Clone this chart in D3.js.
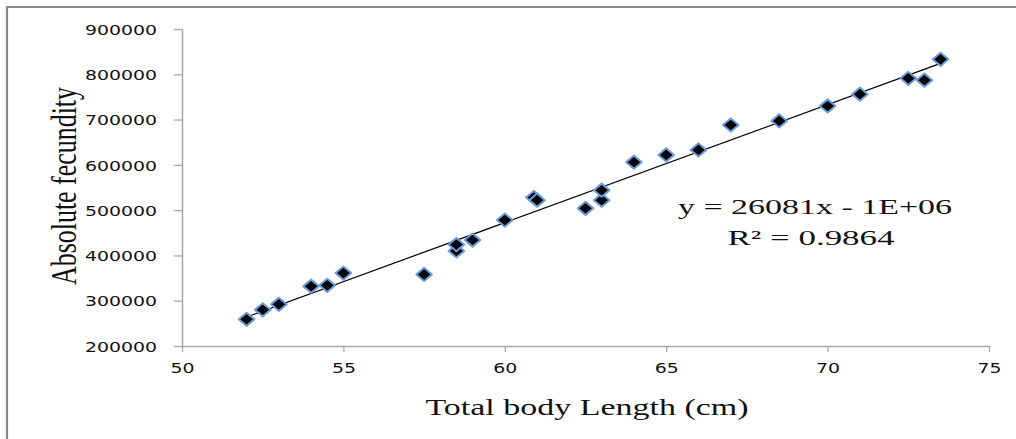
<!DOCTYPE html>
<html>
<head>
<meta charset="utf-8">
<script src="https://cdn.jsdelivr.net/npm/d3@7"></script>
<style>
  html, body { margin: 0; padding: 0; background: #fff; }
  svg { display: block; }
</style>
</head>
<body>
<svg id="chart" width="1016" height="439"></svg>
<script>
// ---- data ----
const bodyLength = [52, 52.5, 53, 54, 54.5, 55, 57.5, 58.5, 58.5, 59, 60, 60.9, 61, 62.5, 63, 63, 64, 65, 66, 67, 68.5, 70, 71, 72.5, 73, 73.5];
const fecundity  = [259000, 280000, 292000, 332000, 334000, 361000, 358000, 410000, 424000, 434000, 478000, 528000, 522000, 504000, 522000, 544000, 606000, 622000, 633000, 688000, 697000, 730000, 756000, 791000, 787000, 833000];
const xTicks = [50, 55, 60, 65, 70, 75];
const yTicks = [200000, 300000, 400000, 500000, 600000, 700000, 800000, 900000];
const xTitle = "Total body Length (cm)";
const yTitle = "Absolute fecundity";
const eqLines = ["y = 26081x - 1E+06", "R\u00B2 = 0.9864"];

const svg = d3.select("#chart");

// frame (top and left edges visible)
svg.append("path")
  .attr("d", "M7,439 L7,7 L1016,7")
  .attr("fill", "none").attr("stroke", "#8a8a8a").attr("stroke-width", 2.2);

const x = d3.scaleLinear().domain([50, 75]).range([182, 989]);
const y = d3.scaleLinear().domain([200000, 900000]).range([346, 29]);

// axes
const xAxis = svg.append("g").attr("transform", "translate(0,346)")
  .call(d3.axisBottom(x).tickValues(xTicks).tickSize(6).tickSizeOuter(0).tickFormat(d3.format("d")));
const yAxis = svg.append("g").attr("transform", "translate(182,0)")
  .call(d3.axisLeft(y).tickValues(yTicks).tickSize(8).tickSizeOuter(0).tickFormat(d3.format("d")));

[xAxis, yAxis].forEach(g => {
  g.select(".domain").attr("stroke", "#a6a6a6").attr("stroke-width", 1.5);
  g.selectAll(".tick line").attr("stroke", "#a6a6a6").attr("stroke-width", 1.3);
  g.selectAll(".tick text")
    .attr("font-family", "'DejaVu Sans', Verdana, sans-serif")
    .attr("font-size", 14.5)
    .attr("fill", "#111")
    .attr("lengthAdjust", "spacingAndGlyphs")
    .attr("textLength", function() { return this.textContent.length * 12; });
});
yAxis.selectAll(".tick text").attr("x", -25).attr("dy", "0.36em");
xAxis.selectAll(".tick text").attr("y", 17).attr("dy", "0.71em");

// trendline (least squares)
const n = bodyLength.length;
const mx = d3.mean(bodyLength), my = d3.mean(fecundity);
let sxy = 0, sxx = 0;
for (let i = 0; i < n; i++) { sxy += (bodyLength[i] - mx) * (fecundity[i] - my); sxx += (bodyLength[i] - mx) ** 2; }
const slope = sxy / sxx, intercept = my - slope * mx;
const [x0, x1] = d3.extent(bodyLength);
svg.append("line")
  .attr("x1", x(x0)).attr("y1", y(slope * x0 + intercept))
  .attr("x2", x(x1)).attr("y2", y(slope * x1 + intercept))
  .attr("stroke", "#000").attr("stroke-width", 1.2);

// markers
const hw = 7.8, hh = 6.6;
const diamond = `M0,${-hh} L${hw},0 L0,${hh} L${-hw},0 Z`;
svg.append("g").selectAll("path")
  .data(bodyLength.map((d, i) => [d, fecundity[i]]))
  .join("path")
  .attr("d", diamond)
  .attr("transform", d => `translate(${x(d[0])},${y(d[1])})`)
  .attr("fill", "#000")
  .attr("stroke", "#6b9bdb")
  .attr("stroke-width", 2)
  .attr("stroke-linejoin", "round");

// equation
svg.append("text")
  .attr("x", 815).attr("y", 214)
  .attr("text-anchor", "middle")
  .attr("font-family", "'Liberation Serif', 'Times New Roman', serif")
  .attr("font-size", 22).attr("fill", "#111")
  .attr("lengthAdjust", "spacingAndGlyphs").attr("textLength", 274)
  .text(eqLines[0]);
svg.append("text")
  .attr("x", 811).attr("y", 245)
  .attr("text-anchor", "middle")
  .attr("font-family", "'Liberation Serif', 'Times New Roman', serif")
  .attr("font-size", 22).attr("fill", "#111")
  .attr("lengthAdjust", "spacingAndGlyphs").attr("textLength", 167)
  .text(eqLines[1]);

// axis titles
svg.append("text")
  .attr("x", 587).attr("y", 415)
  .attr("text-anchor", "middle")
  .attr("font-family", "'Liberation Serif', 'Times New Roman', serif")
  .attr("font-size", 24).attr("fill", "#111")
  .attr("lengthAdjust", "spacingAndGlyphs").attr("textLength", 323)
  .text(xTitle);
svg.append("text")
  .attr("transform", "translate(76,186) scale(1.5,1) rotate(-90)")
  .attr("text-anchor", "middle")
  .attr("font-family", "'Liberation Serif', 'Times New Roman', serif")
  .attr("font-size", 24).attr("fill", "#111")
  .attr("lengthAdjust", "spacingAndGlyphs").attr("textLength", 198)
  .text(yTitle);
</script>
</body>
</html>
